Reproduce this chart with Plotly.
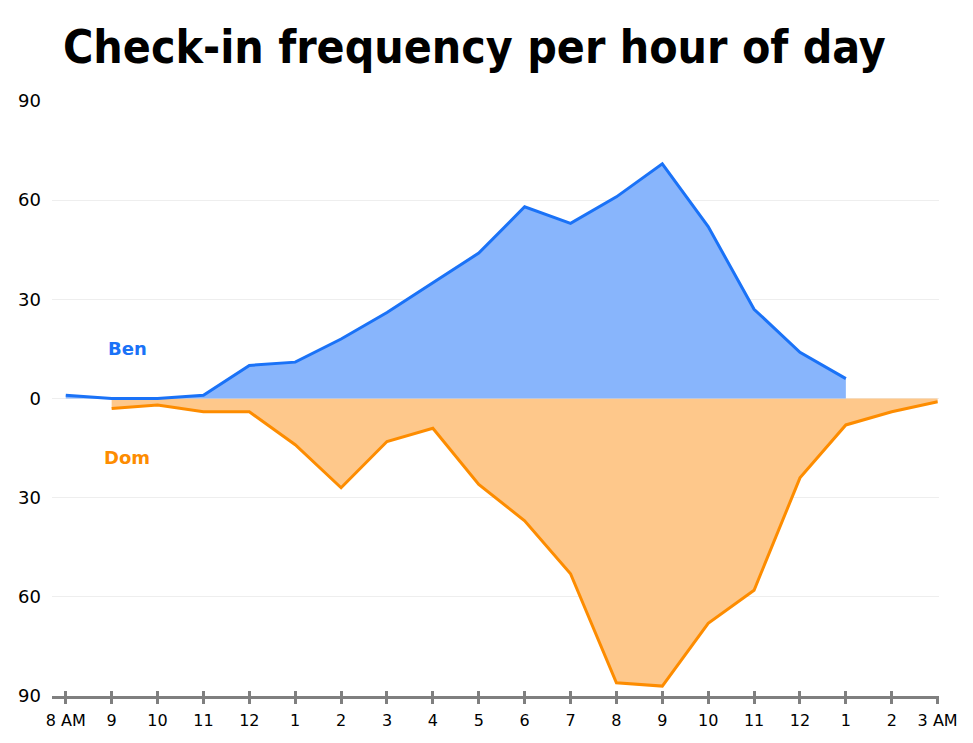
import plotly.graph_objects as go

hours = ["8 AM", "9", "10", "11", "12", "1", "2", "3", "4", "5", "6", "7",
         "8", "9", "10", "11", "12", "1", "2", "3 AM"]
ben = [1, 0, 0, 1, 10, 11, 18, 26, 35, 44, 58, 53, 61, 71, 52, 27, 14, 6, None, None]
dom = [None, 3, 2, 4, 4, 14, 27, 13, 9, 26, 37, 53, 86, 87, 68, 58, 24, 8, 4, 1]
ytick_vals = [-90, -60, -30, 0, 30, 60, 90]
ytick_text = ["90", "60", "30", "0", "30", "60", "90"]

xs = list(range(len(hours)))
dom_neg = [(-v if v is not None else None) for v in dom]

BEN_LINE = "#1a72f7"
BEN_FILL = "#88b5fc"
DOM_LINE = "#fd8c00"
DOM_FILL = "#fec88b"

fig = go.Figure()
fig.add_trace(go.Scatter(x=xs, y=dom_neg, mode="lines", fill="tozeroy",
                         fillcolor=DOM_FILL, line=dict(color=DOM_LINE, width=3),
                         name="Dom", hoverinfo="skip"))
fig.add_trace(go.Scatter(x=xs, y=ben, mode="lines", fill="tozeroy",
                         fillcolor=BEN_FILL, line=dict(color=BEN_LINE, width=3),
                         name="Ben", hoverinfo="skip"))
# invisible trace to host the secondary (tick-only) x axis
fig.add_trace(go.Scatter(x=xs, y=[0] * len(xs), xaxis="x2", mode="lines",
                         line=dict(width=0), opacity=0, hoverinfo="skip",
                         showlegend=False))

label_font = "DejaVu Sans, Verdana, sans-serif"
fig.update_layout(
    width=973, height=743,
    margin=dict(l=52, r=34, t=101, b=47),
    paper_bgcolor="white", plot_bgcolor="white",
    showlegend=False,
    title=dict(text="<b>Check-in frequency per hour of day</b>",
               font=dict(family="Liberation Sans Narrow, Arial Narrow, DejaVu Sans Condensed, sans-serif",
                         size=46, color="black"),
               xref="container", x=63 / 973, xanchor="left",
               yref="container", y=1 - 47 / 743, yanchor="middle"),
    xaxis=dict(range=[-0.3, 19.03], tickmode="array", tickvals=xs, ticktext=hours,
               showgrid=False, zeroline=False, showline=True, linecolor="#7f7f7f",
               linewidth=3, ticks="outside", ticklen=5, tickwidth=3,
               tickcolor="#7f7f7f", ticklabelstandoff=3,
               tickfont=dict(family=label_font, size=16, color="black")),
    xaxis2=dict(range=[-0.3, 19.03], overlaying="x", anchor="y", side="bottom",
                tickmode="array", tickvals=xs[:-1], showticklabels=False,
                showgrid=False, zeroline=False, showline=False,
                ticks="inside", ticklen=5, tickwidth=3, tickcolor="#7f7f7f"),
    yaxis=dict(range=[-90, 90], tickmode="array", tickvals=ytick_vals,
               ticktext=ytick_text, showgrid=True, gridcolor="#eeeeee",
               gridwidth=1, zeroline=False, showline=False, ticks="",
               ticklabelstandoff=10,
               tickfont=dict(family=label_font, size=18, color="black")),
    annotations=[
        dict(x=1.35, y=15.1, xref="x", yref="y", text="<b>Ben</b>", showarrow=False,
             font=dict(family=label_font, size=18, color=BEN_LINE)),
        dict(x=1.33, y=-17.8, xref="x", yref="y", text="<b>Dom</b>", showarrow=False,
             font=dict(family=label_font, size=18, color=DOM_LINE)),
    ],
)

fig.write_html("out.html")
